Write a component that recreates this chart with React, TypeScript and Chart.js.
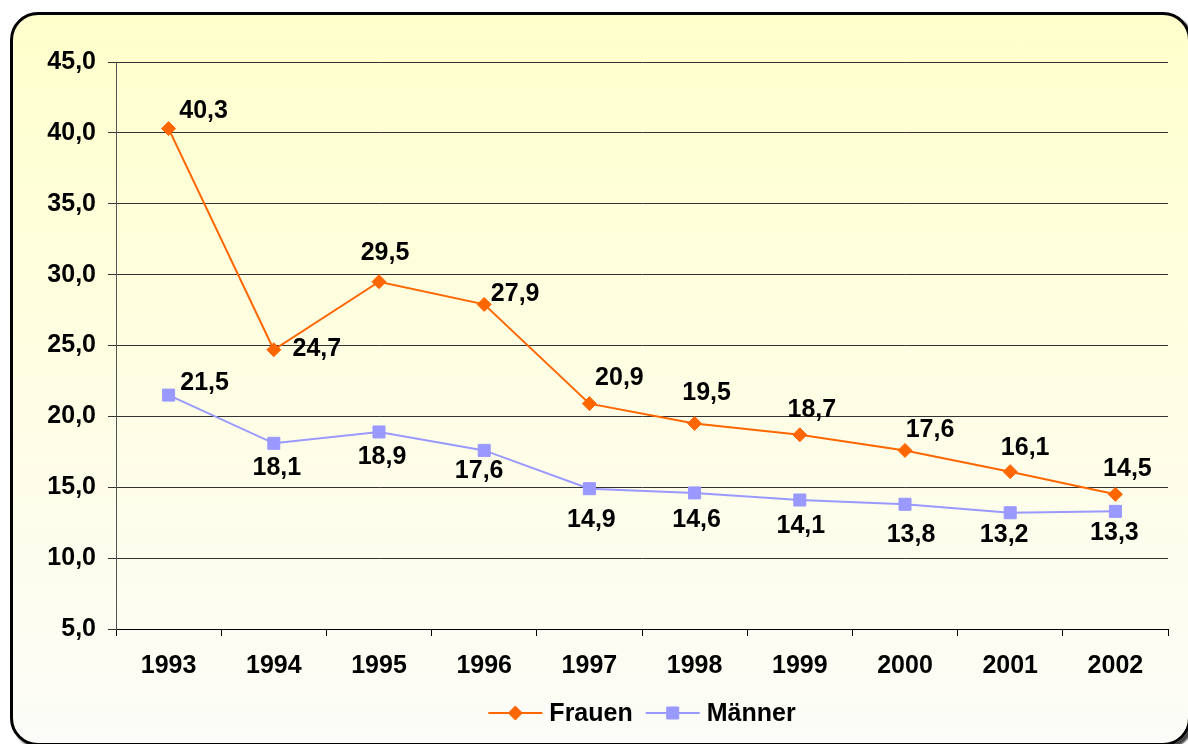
import React, { useEffect, useRef } from 'react';
import { Chart, registerables } from 'chart.js';

Chart.register(...registerables);

// ---- data ----
const years = ['1993', '1994', '1995', '1996', '1997', '1998', '1999', '2000', '2001', '2002'];
const frauen = [40.3, 24.7, 29.5, 27.9, 20.9, 19.5, 18.7, 17.6, 16.1, 14.5];
const maenner = [21.5, 18.1, 18.9, 17.6, 14.9, 14.6, 14.1, 13.8, 13.2, 13.3];
const seriesNames = ['Frauen', 'Männer'];
const yMin = 5;
const yMax = 45;
const yStep = 5;

// ---- label placement (pixel offsets from each point) ----
const frauenLabelOffsets = [
  [35, -18], [43, -1], [6, -29], [31, -10], [30, -26],
  [12, -30], [12, -25], [25, -20], [15, -24], [12, -25],
];
const maennerLabelOffsets = [
  [36, -12], [3, 25], [3, 25], [-5, 21], [2, 31],
  [2, 27], [1, 26], [6, 31], [-6, 22], [-1, 22],
];

const FONT_FAMILY = '"Liberation Sans", Arial, sans-serif';
const FONT_SIZE = 25;
const ORANGE = '#FF6600';
const LILAC = '#9999FF';

const fmt = (v: number) => v.toFixed(1).replace('.', ',');

const dataLabelPlugin = {
  id: 'dataLabels',
  afterDatasetsDraw(chart: any) {
    const ctx = chart.ctx;
    const offsets = [frauenLabelOffsets, maennerLabelOffsets];
    ctx.save();
    ctx.font = `bold ${FONT_SIZE}px ${FONT_FAMILY}`;
    ctx.fillStyle = '#000';
    ctx.textAlign = 'center';
    ctx.textBaseline = 'middle';
    chart.data.datasets.forEach((ds: any, di: number) => {
      const meta = chart.getDatasetMeta(di);
      meta.data.forEach((pt: any, i: number) => {
        const [dx, dy] = offsets[di][i];
        ctx.fillText(fmt(ds.data[i]), pt.x + dx, pt.y + dy);
      });
    });
    ctx.restore();
  },
};

const legendPlugin = {
  id: 'lineLegend',
  afterDraw(chart: any) {
    const ctx = chart.ctx;
    const ca = chart.chartArea;
    const cx = (ca.left + ca.right) / 2;
    const y = chart.height - 31;
    const lineLen = 54;
    const gapText = 7;
    const itemGap = 13;
    ctx.save();
    ctx.font = `bold ${FONT_SIZE}px ${FONT_FAMILY}`;
    const widths = chart.data.datasets.map((d: any) => ctx.measureText(d.label).width);
    const total = widths.reduce((a: number, w: number) => a + lineLen + gapText + w, 0) + itemGap * (widths.length - 1);
    let x = cx - total / 2;
    chart.data.datasets.forEach((ds: any, i: number) => {
      ctx.strokeStyle = ds.borderColor;
      ctx.lineWidth = 2;
      ctx.beginPath();
      ctx.moveTo(x, y);
      ctx.lineTo(x + lineLen, y);
      ctx.stroke();
      ctx.fillStyle = ds.pointBackgroundColor;
      ctx.strokeStyle = ds.pointBorderColor;
      ctx.lineWidth = 1;
      ctx.beginPath();
      const mx = x + lineLen / 2;
      if (ds.pointStyle === 'rectRot') {
        const r = ds.pointRadius;
        ctx.moveTo(mx - r, y);
        ctx.lineTo(mx, y - r);
        ctx.lineTo(mx + r, y);
        ctx.lineTo(mx, y + r);
        ctx.closePath();
      } else {
        const s = ds.pointRadius * Math.SQRT1_2;
        ctx.rect(mx - s, y - s, 2 * s, 2 * s);
      }
      ctx.fill();
      ctx.stroke();
      ctx.fillStyle = '#000';
      ctx.textAlign = 'left';
      ctx.textBaseline = 'middle';
      ctx.fillText(ds.label, x + lineLen + gapText, y + 1);
      x += lineLen + gapText + widths[i] + itemGap;
    });
    ctx.restore();
  },
};

export default function App() {
  const canvasRef = useRef<HTMLCanvasElement | null>(null);

  useEffect(() => {
    if (!canvasRef.current) return;
    const font = { family: FONT_FAMILY, size: FONT_SIZE, weight: 'bold' as const };
    const chart = new Chart(canvasRef.current, {
      type: 'line',
      data: {
        labels: years,
        datasets: [
          {
            label: seriesNames[0],
            data: frauen,
            borderColor: ORANGE,
            backgroundColor: ORANGE,
            borderWidth: 2,
            pointStyle: 'rectRot',
            pointRadius: 7,
            pointBackgroundColor: ORANGE,
            pointBorderColor: ORANGE,
            pointBorderWidth: 1,
            tension: 0,
          },
          {
            label: seriesNames[1],
            data: maenner,
            borderColor: LILAC,
            backgroundColor: LILAC,
            borderWidth: 2,
            pointStyle: 'rect',
            pointRadius: 8.5,
            pointBackgroundColor: LILAC,
            pointBorderColor: LILAC,
            pointBorderWidth: 1,
            tension: 0,
          },
        ],
      },
      options: {
        animation: false,
        responsive: false,
        maintainAspectRatio: false,
        events: [],
        layout: { padding: { left: 0, right: 20, top: 62, bottom: 0 } },
        plugins: {
          legend: { display: false },
          tooltip: { enabled: false },
        },
        scales: {
          x: {
            offset: true,
            grid: {
              offset: true,
              drawOnChartArea: false,
              drawTicks: true,
              tickLength: 7,
              color: '#000',
              lineWidth: 1,
            },
            border: { color: '#000', width: 1 },
            ticks: { color: '#000', font, padding: 15, maxRotation: 0 },
            afterFit: (s: any) => {
              s.height = 115;
            },
          },
          y: {
            min: yMin,
            max: yMax,
            ticks: {
              stepSize: yStep,
              color: '#000',
              font,
              padding: 12,
              callback: (v: any) => fmt(Number(v)),
            },
            grid: { color: '#333', tickLength: 8, tickColor: '#333', lineWidth: 1 },
            border: { color: '#555', width: 1 },
            afterFit: (s: any) => {
              s.width = 116;
            },
          },
        },
      },
      plugins: [dataLabelPlugin, legendPlugin],
    });
    return () => chart.destroy();
  }, []);

  return (
    <div
      style={{
        position: 'absolute',
        left: 0,
        top: 0,
        width: 1188,
        height: 744,
        overflow: 'hidden',
        background: '#fff',
      }}
    >
      <div
        style={{
          position: 'absolute',
          left: 10,
          top: 12,
          width: 1181,
          height: 734,
          boxSizing: 'border-box',
          border: '3px solid #000',
          borderRadius: 28,
          background: 'linear-gradient(to bottom, #FFFFCC 0%, #FEFEE4 50%, #FCFCF8 100%)',
          boxShadow: '3px 3px 2px #444',
        }}
      />
      <canvas
        ref={canvasRef}
        width={1188}
        height={744}
        style={{ position: 'absolute', left: 0, top: 0, width: 1188, height: 744 }}
      />
    </div>
  );
}
